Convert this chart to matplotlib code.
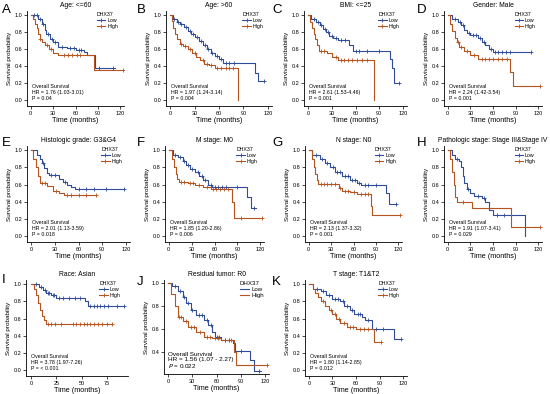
import numpy as np
import matplotlib
matplotlib.use("Agg")
import matplotlib.pyplot as plt
from matplotlib.lines import Line2D

plt.rcParams['font.family'] = ['Liberation Sans', 'DejaVu Sans']

LOW_COL = '#2E4C9A'
HIGH_COL = '#B5541E'

# ---- curve data (time in months, survival probability) ----
a_low_t = [0, 10, 15, 19, 21, 26, 30, 37, 48, 60, 71, 75, 86, 113]
a_low_s = [1.0, 0.95, 0.9, 0.83, 0.78, 0.72, 0.68, 0.63, 0.61, 0.59, 0.57, 0.53, 0.38, 0.38]
a_high_t = [0, 3.5, 6, 8, 10, 12.5, 15, 19, 24, 30, 37, 85, 124]
a_high_s = [1.0, 0.95, 0.9, 0.85, 0.78, 0.72, 0.68, 0.65, 0.6, 0.56, 0.53, 0.35, 0.35]
a_low_c = [5, 8, 12, 17, 23, 28, 33, 42, 52, 58, 65, 68, 92, 110]
a_high_c = [13, 22, 27, 45, 50, 55, 62, 66, 124]

b_low_t = [0, 3, 8, 12, 17, 22, 26, 30, 35, 40, 45, 50, 55, 60, 65, 104, 108, 115]
b_low_s = [1.0, 0.95, 0.92, 0.9, 0.86, 0.82, 0.78, 0.74, 0.7, 0.65, 0.6, 0.56, 0.52, 0.48, 0.44, 0.32, 0.22, 0.22]
b_high_t = [0, 2, 4, 6, 9, 12, 16, 22, 27, 32, 37, 42, 48, 55, 82, 83]
b_high_s = [1.0, 0.93, 0.85, 0.78, 0.72, 0.66, 0.64, 0.6, 0.55, 0.51, 0.47, 0.43, 0.41, 0.38, 0.38, 0.0]
b_low_c = [5, 10, 14, 20, 24, 28, 33, 38, 43, 47, 52, 57, 62, 68, 72, 78, 115]
b_high_c = [14, 18, 25, 30, 40, 45, 50, 58, 63, 68, 72, 77]

c_low_t = [0, 4, 10, 15, 19, 23, 27, 32, 38, 52, 57, 103, 106, 108, 115]
c_low_s = [1.0, 0.96, 0.92, 0.88, 0.84, 0.8, 0.76, 0.73, 0.71, 0.65, 0.58, 0.48, 0.38, 0.2, 0.2]
c_high_t = [0, 3, 5, 7, 9, 11, 14, 24, 30, 38, 82, 83]
c_high_s = [1.0, 0.92, 0.85, 0.78, 0.72, 0.65, 0.58, 0.55, 0.51, 0.47, 0.47, 0.0]
c_low_c = [7, 13, 17, 21, 25, 30, 35, 42, 47, 60, 65, 75, 90, 115]
c_high_c = [16, 20, 35, 42, 46, 50, 55, 62, 68, 75]

d_low_t = [0, 6, 13, 18, 22, 26, 30, 40, 45, 50, 55, 60, 110]
d_low_s = [1.0, 0.95, 0.92, 0.88, 0.83, 0.79, 0.77, 0.73, 0.69, 0.65, 0.6, 0.57, 0.57]
d_high_t = [0, 3, 6, 9, 12, 15, 22, 30, 40, 83, 86, 122]
d_high_s = [1.0, 0.9, 0.81, 0.73, 0.68, 0.63, 0.58, 0.53, 0.49, 0.33, 0.16, 0.16]
d_low_c = [10, 16, 20, 28, 33, 37, 43, 48, 58, 63, 67, 72, 77, 83, 110]
d_high_c = [13, 18, 25, 35, 45, 50, 55, 60, 66, 72, 78, 122]

e_low_t = [0, 7, 11, 14, 17, 20, 23, 36, 40, 45, 50, 55, 117]
e_low_s = [1.0, 0.95, 0.9, 0.85, 0.79, 0.74, 0.71, 0.67, 0.63, 0.6, 0.57, 0.55, 0.55]
e_high_t = [0, 3, 6, 9, 12, 20, 28, 35, 42, 82]
e_high_s = [1.0, 0.9, 0.8, 0.7, 0.62, 0.58, 0.53, 0.5, 0.48, 0.48]
e_low_c = [15, 25, 30, 43, 60, 70, 80, 95, 117]
e_high_c = [14, 18, 32, 45, 50, 60, 70, 82]

f_low_t = [0, 5, 12, 18, 22, 28, 35, 40, 45, 52, 57, 103, 108, 115]
f_low_s = [1.0, 0.95, 0.92, 0.88, 0.83, 0.78, 0.75, 0.7, 0.65, 0.6, 0.57, 0.45, 0.33, 0.33]
f_high_t = [0, 4, 7, 9, 11, 14, 25, 35, 45, 55, 83, 85, 122]
f_high_s = [1.0, 0.9, 0.8, 0.72, 0.66, 0.63, 0.62, 0.6, 0.57, 0.55, 0.4, 0.21, 0.21]
f_low_c = [8, 15, 20, 25, 30, 38, 43, 48, 55, 60, 65, 70, 75, 90, 112]
f_high_c = [16, 20, 28, 32, 40, 50, 58, 62, 67, 72, 78, 95, 122]

g_low_t = [0, 5, 15, 22, 28, 35, 45, 55, 65, 70, 103, 108, 117]
g_low_s = [1.0, 0.95, 0.9, 0.85, 0.8, 0.75, 0.7, 0.65, 0.62, 0.6, 0.5, 0.37, 0.37]
g_high_t = [0, 4, 7, 9, 11, 13, 40, 45, 55, 65, 83, 85, 122]
g_high_s = [1.0, 0.9, 0.8, 0.72, 0.65, 0.61, 0.56, 0.53, 0.51, 0.49, 0.35, 0.25, 0.25]
g_low_c = [10, 18, 25, 32, 38, 42, 48, 52, 58, 62, 68, 75, 80, 90, 117]
g_high_c = [16, 20, 25, 30, 35, 42, 48, 52, 60, 70, 75, 80, 122]

h_low_t = [0, 5, 10, 15, 18, 20, 22, 25, 30, 35, 45, 50, 55, 60, 103]
h_low_s = [1.0, 0.95, 0.9, 0.88, 0.8, 0.7, 0.62, 0.55, 0.5, 0.47, 0.44, 0.4, 0.3, 0.25, 0.0]
h_high_t = [0, 3, 6, 8, 10, 12, 32, 84, 122]
h_high_s = [1.0, 0.9, 0.75, 0.6, 0.46, 0.4, 0.33, 0.11, 0.11]
h_low_c = [12, 27, 40, 48, 65, 75]
h_high_c = [20, 122]

i_low_t = [0, 8, 12, 15, 20, 25, 53, 56, 92]
i_low_s = [1.0, 0.97, 0.93, 0.9, 0.87, 0.84, 0.8, 0.75, 0.75]
i_high_t = [0, 3, 5, 7, 9, 11, 13, 15, 80]
i_high_s = [1.0, 0.95, 0.87, 0.78, 0.7, 0.63, 0.58, 0.54, 0.54]
i_low_c = [5, 10, 14, 17, 18, 22, 23, 28, 32, 38, 44, 48, 58, 62, 65, 68, 72, 76, 85, 92]
i_high_c = [17, 20, 24, 30, 42, 45, 48, 52, 55, 58, 62, 66, 70, 75, 80]

j_low_t = [0, 5, 12, 18, 22, 28, 35, 45, 50, 55, 58, 65, 80, 83, 102, 107, 115]
j_low_s = [1.0, 0.97, 0.93, 0.88, 0.82, 0.76, 0.72, 0.68, 0.63, 0.57, 0.53, 0.5, 0.48, 0.41, 0.33, 0.24, 0.24]
j_high_t = [0, 4, 8, 12, 18, 25, 35, 45, 55, 65, 82, 84, 122]
j_high_s = [1.0, 0.9, 0.8, 0.7, 0.67, 0.62, 0.57, 0.53, 0.52, 0.5, 0.4, 0.29, 0.29]
j_low_c = [8, 15, 20, 25, 30, 38, 42, 48, 53, 60, 63, 70, 75, 90, 112]
j_high_c = [14, 16, 22, 28, 32, 40, 48, 52, 58, 62, 70, 75, 78, 122]

k_low_t = [0, 5, 15, 22, 30, 40, 45, 52, 58, 68, 72, 80, 108, 117]
k_low_s = [1.0, 0.95, 0.92, 0.88, 0.83, 0.8, 0.75, 0.7, 0.65, 0.62, 0.58, 0.48, 0.36, 0.36]
k_high_t = [0, 5, 8, 12, 15, 20, 25, 30, 35, 40, 48, 60, 83, 92]
k_high_s = [1.0, 0.95, 0.9, 0.85, 0.8, 0.75, 0.7, 0.65, 0.6, 0.55, 0.5, 0.48, 0.33, 0.33]
k_low_c = [10, 18, 25, 33, 37, 43, 48, 55, 62, 65, 75, 85, 95, 117]
k_high_c = [18, 28, 33, 38, 45, 52, 56, 65, 70, 75, 92]

panel_letters = ['A', 'B', 'C', 'D', 'E', 'F', 'G', 'H', 'I', 'J', 'K']
panel_titles = ['Age: <=60', 'Age: >60', 'BMI: <=25', 'Gender: Male',
                'Histologic grade: G3&G4', 'M stage: M0', 'N stage: N0',
                'Pathologic stage: Stage III&Stage IV', 'Race: Asian',
                'Residual tumor: R0', 'T stage: T1&T2']
hr_texts = ['HR = 1.76 (1.03-3.01)', 'HR = 1.97 (1.24-3.14)', 'HR = 2.61 (1.53-4.46)',
            'HR = 2.24 (1.42-3.54)', 'HR = 2.01 (1.13-3.59)', 'HR = 1.85 (1.20-2.86)',
            'HR = 2.13 (1.37-3.32)', 'HR = 1.91 (1.07-3.41)', 'HR = 3.78 (1.97-7.26)',
            'HR = 1.56 (1.07 - 2.27)', 'HR = 1.80 (1.14-2.85)']
p_texts = ['0.04', '0.004', '0.001', '0.001', '0.018', '0.006', '0.001', '0.029',
           '< 0.001', '0.022', '0.012']

curves = [
    (a_low_t, a_low_s, a_low_c, a_high_t, a_high_s, a_high_c),
    (b_low_t, b_low_s, b_low_c, b_high_t, b_high_s, b_high_c),
    (c_low_t, c_low_s, c_low_c, c_high_t, c_high_s, c_high_c),
    (d_low_t, d_low_s, d_low_c, d_high_t, d_high_s, d_high_c),
    (e_low_t, e_low_s, e_low_c, e_high_t, e_high_s, e_high_c),
    (f_low_t, f_low_s, f_low_c, f_high_t, f_high_s, f_high_c),
    (g_low_t, g_low_s, g_low_c, g_high_t, g_high_s, g_high_c),
    (h_low_t, h_low_s, h_low_c, h_high_t, h_high_s, h_high_c),
    (i_low_t, i_low_s, i_low_c, i_high_t, i_high_s, i_high_c),
    (j_low_t, j_low_s, j_low_c, j_high_t, j_high_s, j_high_c),
    (k_low_t, k_low_s, k_low_c, k_high_t, k_high_s, k_high_c),
]

# ---- layout in pixels: (left, right, top, bottom) of each axes, letter position ----
W, H = 550, 394
axes_px = [(27, 124, 11, 106), (166, 272, 11, 106), (304, 407, 11, 106), (444, 542, 11, 106),
           (27, 130, 146, 242), (165, 264, 146, 242), (305, 402, 146, 242), (444, 542, 146, 242),
           (26, 128, 280, 376), (164, 269, 280, 374), (305, 407, 280, 376)]
letter_px = [(2, 4), (137, 4), (272, 4), (417, 4),
             (2, 137), (137, 137), (272, 137), (417, 137),
             (2, 274), (137, 276), (272, 276)]


def step_value(t, s, x):
    idx = np.searchsorted(t, x, side='right') - 1
    return np.asarray(s)[idx]


fig = plt.figure(figsize=(W / 100, H / 100), dpi=100)

for k in range(11):
    l, r, t, b = axes_px[k]
    ax = fig.add_axes([l / W, 1 - b / H, (r - l) / W, (b - t) / H])
    lt, ls, lc, ht, hs, hc = curves[k]
    ax.step(lt, ls, where='post', color=LOW_COL, lw=0.8)
    ax.step(ht, hs, where='post', color=HIGH_COL, lw=0.8)
    ax.plot(lc, step_value(lt, ls, lc), ls='none', marker='+', ms=2.6, mew=0.6, color=LOW_COL)
    ax.plot(hc, step_value(ht, hs, hc), ls='none', marker='+', ms=2.6, mew=0.6, color=HIGH_COL)

    if k == 8:
        ax.set_xlim(-5, 96)
        ax.set_xticks([0, 25, 50, 75])
    else:
        ax.set_xlim(-5, 125)
        ax.set_xticks([0, 30, 60, 90, 120])
    if k == 9:
        ax.set_ylim(0.21, 1.023)
        ax.set_yticks([0.4, 0.6, 0.8, 1.0])
    else:
        ax.set_ylim(-0.07, 1.05)
        ax.set_yticks([0.0, 0.2, 0.4, 0.6, 0.8, 1.0])
    ax.yaxis.set_major_formatter(matplotlib.ticker.FormatStrFormatter('%.1f'))

    for sp in ['top', 'right']:
        ax.spines[sp].set_visible(False)
    for sp in ['left', 'bottom']:
        ax.spines[sp].set_linewidth(0.6)
    ax.tick_params(labelsize=4, length=2, width=0.5, pad=1.5)
    ax.set_xlabel('Time (months)', fontsize=5.2, labelpad=1)
    ax.set_ylabel('Survival probability', fontsize=4.6, labelpad=1.5)
    ax.set_title(panel_titles[k], fontsize=4.9, pad=3)

    if k == 9:
        handles = [Line2D([], [], color=LOW_COL, lw=0.8), Line2D([], [], color=HIGH_COL, lw=0.8)]
        ax.text(0.04, 0.04, 'Overall Survival\n' + hr_texts[k] + '\n$P$ = ' + p_texts[k],
                transform=ax.transAxes, fontsize=4.6, va='bottom', ha='left', linespacing=1.05)
        leg_fs = 4.4
    else:
        handles = [Line2D([], [], color=LOW_COL, lw=0.8, marker='+', ms=2.6, mew=0.6),
                   Line2D([], [], color=HIGH_COL, lw=0.8, marker='+', ms=2.6, mew=0.6)]
        ax.text(0.05, 0.05, 'Overall Survival\n' + hr_texts[k] + '\nP = ' + p_texts[k],
                transform=ax.transAxes, fontsize=3.8, va='bottom', ha='left', linespacing=1.25)
        leg_fs = 3.8
    ax.legend(handles, ['Low', 'High'], title='DHX37', loc='upper left',
              bbox_to_anchor=(0.72, 0.99), fontsize=leg_fs, title_fontsize=leg_fs,
              frameon=False, handlelength=1.6, handletextpad=0.4, labelspacing=0.15,
              borderpad=0, borderaxespad=0, alignment='left')

    lx, ly = letter_px[k]
    fig.text(lx / W, 1 - ly / H, panel_letters[k], fontsize=9.5, va='top', ha='left')

fig.savefig('out.png', dpi=100)
